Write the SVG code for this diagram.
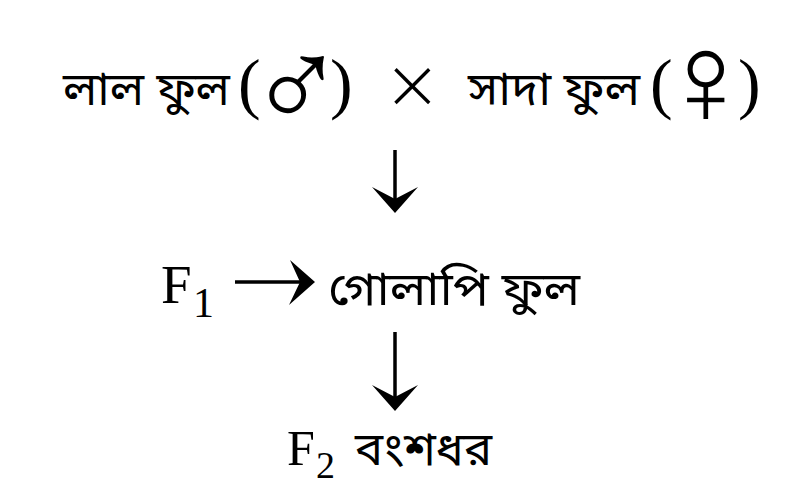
<svg xmlns="http://www.w3.org/2000/svg" width="790" height="503" viewBox="0 0 790 503">
<style>
.bn{font-family:"Noto Sans Bengali","Noto Serif Bengali","Noto Sans","Liberation Serif",sans-serif;font-size:47px;fill:#000}
.sym{font-family:"DejaVu Sans","Liberation Serif",sans-serif;font-weight:200;fill:#000}
.par{font-family:"Liberation Serif",serif;font-size:68px;fill:#000}
.f{font-family:"Liberation Serif",serif;fill:#000}
.ln{stroke:#000;stroke-width:3.5;fill:none}
</style>
<g id="parents">
<text class="bn" x="63" y="105" textLength="167" lengthAdjust="spacingAndGlyphs">লাল ফুল</text>
<text class="par" x="238" y="106">(<tspan class="sym" x="248" y="129" font-size="130">♂</tspan><tspan x="330" y="106">)</tspan></text>
<text class="sym" x="383" y="108" font-size="70">×</text>
<text class="bn" x="468" y="105" textLength="172" lengthAdjust="spacingAndGlyphs">সাদা ফুল</text>
<text class="par" x="650" y="106">(<tspan class="sym" x="657" y="124" font-size="130">♀</tspan><tspan x="738" y="106">)</tspan></text>
</g>
<g id="f1">
<text class="f" x="161" y="303" font-size="55">F<tspan x="193" y="317" font-size="42">1</tspan></text>
<text class="bn" x="328" y="305" textLength="252" lengthAdjust="spacingAndGlyphs">গোলাপি ফুল</text>
</g>
<g id="f2">
<text class="f" x="287" y="465" font-size="50">F<tspan x="316" y="478" font-size="38">2</tspan></text>
<text class="bn" x="355" y="465" textLength="137" lengthAdjust="spacingAndGlyphs">বংশধর</text>
</g>
<g id="connectors">
<line class="ln" x1="395" y1="150" x2="395" y2="200"/>
<path d="M372,187 L395,213 L418,187 L395,199 Z"/>
<line class="ln" x1="235" y1="282" x2="300" y2="282"/>
<path d="M290,260 L315,282 L289,305 L300,282 Z"/>
<line class="ln" x1="395" y1="332" x2="395" y2="398"/>
<path d="M372,385 L395,411 L418,385 L395,397 Z"/>
</g>
</svg>
